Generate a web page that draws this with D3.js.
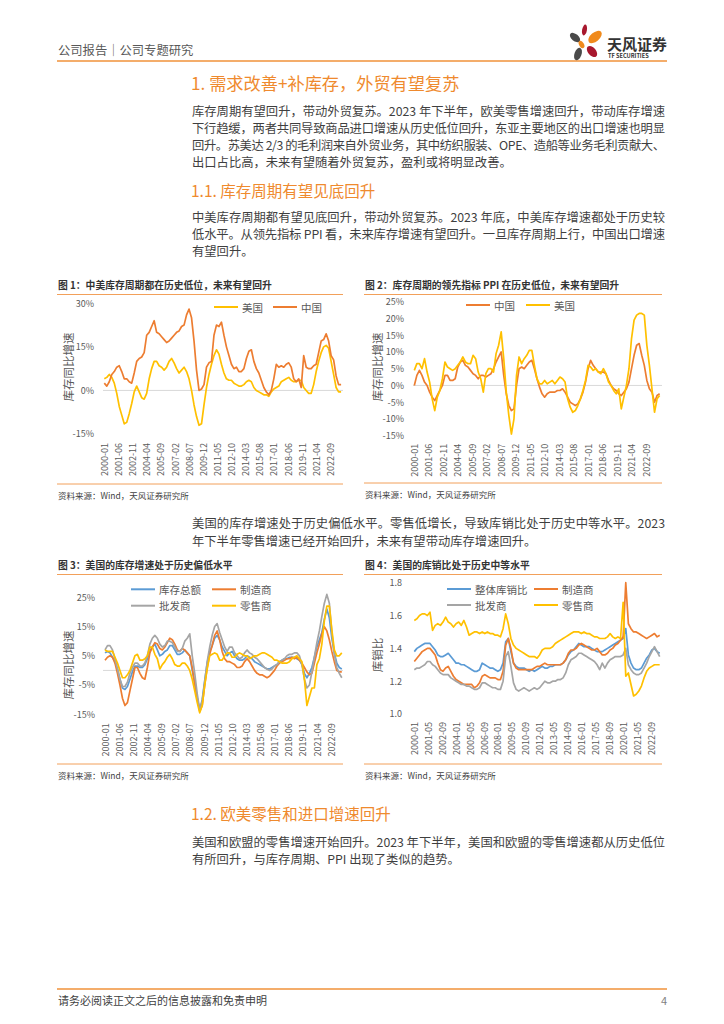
<!DOCTYPE html>
<html>
<head>
<meta charset="utf-8">
<script src="https://cdn.jsdelivr.net/npm/d3@7"></script>
<style>
  body { margin: 0; background: #fff; }
  text { font-family: "Noto Sans CJK SC", "Noto Sans", sans-serif; }
</style>
</head>
<body>
<svg id="page" width="724" height="1024"></svg>
<script>
// ---- data (readings every third month, starting 2000-01) ----
const STEP = 3;

const xTicksA = ["2000-01","2001-06","2002-11","2004-04","2005-09","2007-02","2008-07","2009-12","2011-05","2012-10","2014-03","2015-08","2017-01","2018-06","2019-11","2021-04","2022-09"];
const xTicksB = ["2000-01","2001-05","2002-09","2004-01","2005-05","2006-09","2008-01","2009-05","2010-09","2012-01","2013-05","2014-09","2016-01","2017-05","2018-09","2020-01","2021-05","2022-09"];

// 图1 库存同比 (%)
const invUS = [4,4.5,5.5,4.5,2.5,-1,-5.5,-8.5,-11.5,-11,
  -8,-4.5,-0.5,1.5,-0.5,-2.5,-3,-1,4,7.5,
  10,10,8.5,8,7,8,10,11,9.5,7.5,
  6,7,8,6.5,4,0,-5,-9,-12,-11.5,
  -5,1,5.5,9,12,14,12.5,9,6,4,
  3.5,3.5,2.5,2,1.5,1.5,2,3,3.5,3,
  1,0,-0.5,-1,-1.5,-1.5,-2,-0.5,0.5,1,
  1.5,3,3.5,4,4.5,3.5,3,3,3.5,3.5,
  1,0,-1,-1,2,6.5,10,13,15,15.5,
  14.5,10,5.5,1,-0.5,-0.5];
const invCN = [2.5,1.5,3,5.5,6.5,8,8.5,6.5,4,4,
  3,2.5,6,10,11,11.5,13,19,20,22,
  24,20,19.5,18.5,17.5,16.5,17,18,19,20,
  20.5,22,22.5,26,28,25,17,7,0,0.5,
  2,8,9.5,10,19,22.5,22,23.5,19,15,
  12,9,7.5,8,6.5,6.5,7.5,11,13.5,14,
  10,7.5,6,3.5,1,-0.5,-1.5,0,4,9,
  8,8.5,8,9,9.5,8,4,3,4,1,
  12,8,7.5,7.5,8.5,9,13,17,17.5,19.5,
  17,12,10.5,5,2,2];

// 图2 PPI 同比 (%)
const ppiCN = [0,3,4.5,3,1,0,-2,-3.5,-4.5,-3,
  -1.5,0,3,3,1.5,1.5,2,5.5,7,7.5,
  6,5.5,4.5,3.5,3,2,3,3,2.5,3,
  3.5,5,7,8.5,10,3,-2.5,-6,-7.5,-7,
  0,5,5.5,5,6,7,7.5,5,2,-0.5,
  -2.5,-3.5,-2.5,-2,-2,-2,-1.5,-1.5,-1,-2,
  -3.5,-5,-5.5,-6,-5.5,-4,-2,1,5,7.5,
  6,5,4,4,4,3.5,1.5,0,-1,-1.5,
  -2.5,-3,-2,-1,1,5,9,12,12.5,9,
  6,1.5,-1,-2,-5,-3,-2.5];
const ppiUS = [4.5,6.5,6.5,5,8,4,1,-4,-7.5,-3.5,
  -1.5,2,7,5.5,5,4.5,5,6,7,8.5,
  7,6.5,6.5,9,8,4,2,-2,3.5,5,
  5,4,9.5,12,16,8,-2,-9,-14.5,-10,
  3,8.5,6.5,8,9,10.5,10.5,6,2,0.5,
  0.5,1.5,0.5,1,1.5,0.5,1.5,2.5,2,1,
  -4,-6.5,-8,-7.5,-6,-4,-1.5,1.5,6,5.5,
  4.5,5,4,3.5,5,3.5,1,0,-1.5,-2.5,
  -1,-7,-3.5,0,5,14,19.5,21,21.5,21.5,
  21,12,6,-1,-8,-4,-3];

// 图3 美国库存同比 (%)
const usTotal = [6,6.5,6,4.5,3,0.5,-3,-6,-6.5,-5.5,
  -3,-0.5,1.5,1.5,1,1,2,4,6.5,8,
  9,7,5,5.5,6.5,7,8.5,8.5,7,5.5,
  5.5,6,7,6,5,0,-4.5,-9.5,-13.5,-10,
  -3.5,2.5,6.5,8.5,11,12,10.5,8,6.5,5,
  6,6.5,5,4,3.5,3.5,4,5,4.5,4,
  3,2.5,2,1.5,1,0.5,0.5,1,1.5,2,
  3,3.5,4,4,4.5,4.5,4.5,4,3.5,2,
  -1,-2.5,-1,1,4.5,8,10.5,13,17.5,21,
  18,11,6,2.5,1,0.5];
const usMfg = [3.5,4.5,5,4.5,2.5,-1,-5,-9.5,-12,-11,
  -7,-3,1,1,-1,-2.5,-3,1,6,8,
  9.5,9,7.5,7,8,9.5,11,10.5,9,7,
  6.5,7.5,7,6,5,1,-4.5,-9.5,-14,-12,
  -5,1,5.5,8.5,12,13.5,10.5,6.5,4,3,
  3,2.5,2,1,1,1.5,3,4,3,1.5,
  0,-1,-1.5,-1.5,-2,-2.5,-2,-1,0,1.5,
  2.5,3,3.5,4,4,4.5,4,4.5,3.5,2.5,
  1,-0.5,-1.5,-1,2.5,6,9,12.5,15,13.5,
  10.5,6.5,3,0,-0.5,-0.5];
const usWhl = [7,8.5,8.5,7,4,0.5,-3,-5.5,-5.5,-4,
  -1,1,2.5,2.5,1.5,1.5,2.5,5,9,11,
  12,11,9,8,8.5,10,10,9.5,8,6.5,
  6.5,7.5,10,11,12.5,5,-1,-8,-13.5,-10.5,
  -4,3,8,12,15,16,13,10.5,8,6.5,
  8,8,6,5,4,4.5,6,7,6,5.5,
  4.5,4,3,2,1,0.5,0,0.5,1.5,2,
  3,3.5,4,5,5.5,5.5,6,6,5,2,
  -3,-6,-5,-0.5,4.5,9.5,13.5,18.5,23,26,
  23,13,5.5,1,-1,-2.5];
const usRet = [7,6.5,6.5,6.5,4.5,2.5,0,-2.5,-2.5,-1.5,
  0,2.5,5,5.5,3.5,3.5,4,5,8,8,
  5.5,4,0.5,2,3,4.5,5.5,4,2,1.5,
  1.5,2.5,2.5,1.5,0,-3,-7,-11,-14.5,-12,
  -5,0.5,5,5.5,6,5.5,3.5,3.5,5,6,
  6,4.5,4.5,5.5,6,5.5,5,5,4,4.5,
  5,5,5.5,6,6,5.5,5,4.5,3.5,3.5,
  3,2.5,2.5,2.5,3,4,4.5,5,4,3,
  -3,-12,-9,-6,-6,2,4,9,17,22,
  22,14,7,5,5,6];

// 图4 美国库销比
const isTotal = [1.38,1.40,1.41,1.42,1.43,1.43,1.43,1.41,1.39,1.36,
  1.35,1.35,1.36,1.37,1.35,1.33,1.31,1.31,1.30,1.30,
  1.29,1.28,1.27,1.26,1.26,1.27,1.31,1.30,1.29,1.28,
  1.28,1.27,1.26,1.27,1.31,1.44,1.46,1.38,1.31,1.29,
  1.28,1.28,1.28,1.27,1.26,1.27,1.26,1.27,1.28,1.29,
  1.28,1.28,1.29,1.29,1.30,1.30,1.30,1.31,1.33,1.36,
  1.38,1.39,1.41,1.43,1.42,1.41,1.41,1.41,1.40,1.39,
  1.38,1.38,1.38,1.39,1.40,1.41,1.42,1.43,1.44,1.45,
  1.46,1.52,1.36,1.31,1.28,1.27,1.27,1.28,1.31,1.34,
  1.36,1.39,1.40,1.38,1.37];
const isMfg = [1.32,1.34,1.36,1.38,1.39,1.40,1.40,1.38,1.36,1.31,
  1.27,1.26,1.28,1.29,1.26,1.23,1.21,1.20,1.19,1.18,
  1.18,1.18,1.18,1.16,1.17,1.19,1.23,1.24,1.23,1.22,
  1.22,1.22,1.21,1.21,1.26,1.42,1.46,1.40,1.31,1.28,
  1.27,1.27,1.27,1.27,1.27,1.27,1.28,1.29,1.29,1.30,
  1.31,1.30,1.30,1.30,1.30,1.30,1.30,1.31,1.33,1.37,
  1.39,1.39,1.40,1.42,1.43,1.42,1.41,1.40,1.39,1.39,
  1.40,1.38,1.36,1.36,1.37,1.39,1.40,1.42,1.43,1.45,
  1.47,1.80,1.55,1.52,1.50,1.50,1.49,1.48,1.47,1.46,
  1.47,1.48,1.49,1.47,1.48];
const isWhl = [1.27,1.28,1.28,1.29,1.30,1.32,1.32,1.30,1.29,1.27,
  1.25,1.24,1.24,1.24,1.22,1.21,1.20,1.19,1.18,1.18,
  1.17,1.17,1.16,1.15,1.15,1.16,1.19,1.19,1.18,1.17,
  1.16,1.16,1.15,1.15,1.20,1.35,1.38,1.29,1.19,1.15,
  1.14,1.15,1.16,1.15,1.14,1.15,1.16,1.15,1.16,1.18,
  1.20,1.19,1.19,1.20,1.20,1.21,1.21,1.22,1.25,1.30,
  1.33,1.34,1.35,1.37,1.37,1.36,1.35,1.34,1.33,1.32,
  1.30,1.27,1.31,1.28,1.31,1.33,1.34,1.35,1.35,1.35,
  1.36,1.40,1.30,1.27,1.25,1.24,1.24,1.25,1.28,1.31,
  1.35,1.38,1.41,1.38,1.35];
const isRet = [1.57,1.58,1.60,1.61,1.61,1.60,1.62,1.51,1.54,1.55,
  1.54,1.56,1.59,1.56,1.55,1.53,1.55,1.56,1.54,1.57,
  1.53,1.48,1.49,1.50,1.50,1.49,1.50,1.49,1.50,1.49,
  1.49,1.48,1.48,1.47,1.52,1.61,1.55,1.46,1.42,1.40,
  1.39,1.38,1.37,1.36,1.35,1.35,1.35,1.34,1.36,1.39,
  1.40,1.40,1.40,1.41,1.43,1.44,1.45,1.46,1.47,1.48,
  1.49,1.50,1.50,1.50,1.49,1.50,1.49,1.49,1.48,1.47,
  1.47,1.46,1.46,1.46,1.47,1.49,1.47,1.46,1.47,1.46,
  1.68,1.23,1.25,1.18,1.11,1.12,1.14,1.17,1.22,1.26,
  1.28,1.29,1.30,1.30,1.30];

// ---- page ----
const ORANGE = "#EF8A2E", LINE_OR = "#F2A05A", TXT = "#3f3f3f", AX = "#595959";
const C_BLUE = "#5B9BD5", C_ORANGE = "#ED7D31", C_GRAY = "#A5A5A5", C_YELLOW = "#FFC000";

const svg = d3.select("#page");

function label(x, y, str, size, color, opts = {}) {
  const t = svg.append("text")
    .attr("x", x).attr("y", y)
    .attr("dominant-baseline", "central")
    .attr("font-size", size)
    .attr("fill", color)
    .text(str);
  if (opts.bold) t.attr("font-weight", "bold");
  if (opts.anchor) t.attr("text-anchor", opts.anchor);
  if (opts.width) t.attr("textLength", opts.width).attr("lengthAdjust", "spacing");
  return t;
}

function hline(x1, x2, y, color, w) {
  svg.append("line").attr("x1", x1).attr("x2", x2).attr("y1", y).attr("y2", y)
    .attr("stroke", color).attr("stroke-width", w);
}

// header
label(58, 50, "公司报告｜公司专题研究", 12.3, "#595959");
hline(57, 667, 61, "#F0923A", 1.6);
const petals = [
  [584.5, 30, 2.4, 5.5, 10, "#A8182E"],
  [595, 37, 4.5, 8, 50, "#F08A1C"],
  [575, 37.5, 3.5, 6, -50, "#4A4A4A"],
  [581.5, 44.5, 2.4, 4, -30, "#F08A1C"],
  [592, 51.5, 4, 6.5, -40, "#A8182E"],
  [578, 54, 3.5, 6.5, 20, "#4A4A4A"]
];
svg.append("g").selectAll("ellipse").data(petals).join("ellipse")
  .attr("cx", d => d[0]).attr("cy", d => d[1])
  .attr("rx", d => d[2]).attr("ry", d => d[3])
  .attr("transform", d => `rotate(${d[4]},${d[0]},${d[1]})`)
  .attr("fill", d => d[5]);
label(607, 43.5, "天风证券", 15, "#333", {bold: true});
label(608, 56, "TF SECURITIES", 5.6, "#333", {bold: true});

// body text
const BX = 192, BW = 473, BF = 12.3;
function para(lines, y0, lh) {
  lines.forEach((s, i) => {
    label(BX, y0 + i * lh, s, BF, TXT, i < lines.length - 1 ? {width: BW} : {});
  });
}
label(191, 82, "1. 需求改善+补库存，外贸有望复苏", 17.2, ORANGE);
para(["库存周期有望回升，带动外贸复苏。2023 年下半年，欧美零售增速回升，带动库存增速",
      "下行趋缓，两者共同导致商品进口增速从历史低位回升，东亚主要地区的出口增速也明显",
      "回升。苏美达 2/3 的毛利润来自外贸业务，其中纺织服装、OPE、造船等业务毛利贡献大、",
      "出口占比高，未来有望随着外贸复苏，盈利或将明显改善。"], 111, 17);
label(191, 190, "1.1. 库存周期有望见底回升", 15.5, ORANGE);
para(["中美库存周期都有望见底回升，带动外贸复苏。2023 年底，中美库存增速都处于历史较",
      "低水平。从领先指标 PPI 看，未来库存增速有望回升。一旦库存周期上行，中国出口增速",
      "有望回升。"], 217, 17);
para(["美国的库存增速处于历史偏低水平。零售低增长，导致库销比处于历史中等水平。2023",
      "年下半年零售增速已经开始回升，未来有望带动库存增速回升。"], 523, 18);
label(191, 813, "1.2. 欧美零售和进口增速回升", 15.5, ORANGE);
para(["美国和欧盟的零售增速开始回升。2023 年下半年，美国和欧盟的零售增速都从历史低位",
      "有所回升，与库存周期、PPI 出现了类似的趋势。"], 842, 16.5);

// footer
hline(57, 667, 989, "#F0923A", 1.6);
label(58, 1000, "请务必阅读正文之后的信息披露和免责申明", 11, TXT);
label(667, 1000, "4", 11, "#7f7f7f", {anchor: "end"});

// ---- charts ----
const monthIndex = s => { const [y, m] = s.split("-").map(Number); return (y - 2000) * 12 + m - 1; };

function drawChart(cfg) {
  // caption and frame lines
  label(cfg.left + 1, cfg.capY, cfg.caption, 9.8, "#333", {bold: true});
  hline(cfg.left, cfg.right, cfg.capY + 9.5, LINE_OR, 1);
  hline(cfg.left, cfg.right, cfg.srcY - 11, LINE_OR, 1);
  label(cfg.left + 1, cfg.srcY, "资料来源：Wind，天风证券研究所", 8.5, TXT);

  const x = d3.scaleLinear().domain([0, 272]).range(cfg.xr);
  const y = d3.scaleLinear().domain(cfg.yd).range(cfg.yr);
  const g = svg.append("g");

  if (cfg.zero) {
    g.append("line").attr("x1", cfg.plotX[0]).attr("x2", cfg.plotX[1])
      .attr("y1", y(0)).attr("y2", y(0)).attr("stroke", "#D9D9D9").attr("stroke-width", 1);
  }

  // y axis
  const ya = g.append("g").attr("transform", `translate(${cfg.yLabelX + 3},0)`)
    .call(d3.axisLeft(y).tickValues(cfg.yTicks).tickFormat(cfg.yFmt).tickSize(0).tickPadding(3));
  ya.select(".domain").remove();
  ya.selectAll("text").attr("font-size", 9).attr("fill", AX)
    .attr("font-family", "'Noto Sans CJK SC', sans-serif");

  // x axis
  const xa = g.append("g").attr("transform", `translate(0,${cfg.yr[0]})`)
    .call(d3.axisBottom(x).tickValues(cfg.xTicks.map(monthIndex))
      .tickFormat(i => cfg.xTicks.find(s => monthIndex(s) === i)).tickSize(0));
  xa.select(".domain").remove();
  xa.selectAll("text")
    .attr("transform", "rotate(-90)")
    .attr("x", -cfg.xPad).attr("y", 0).attr("dy", "0.35em")
    .style("text-anchor", "end")
    .attr("font-size", 9).attr("fill", AX)
    .attr("font-family", "'Noto Sans CJK SC', sans-serif");

  // y title
  svg.append("text")
    .attr("transform", `translate(${cfg.titleX},${cfg.titleY}) rotate(-90)`)
    .attr("text-anchor", "middle").attr("dominant-baseline", "central")
    .attr("font-size", 11.5).attr("fill", AX).text(cfg.yTitle);

  // series
  const line = d3.line().x((d, i) => x(i * STEP)).y(d => y(d));
  cfg.series.forEach(s => {
    g.append("path").datum(s.values)
      .attr("d", line).attr("fill", "none")
      .attr("stroke", s.color).attr("stroke-width", 1.7)
      .attr("stroke-linejoin", "round");
  });

  // legend
  cfg.legend.forEach(l => {
    const s = cfg.series.find(d => d.name === l.name);
    g.append("line").attr("x1", l.x).attr("x2", l.x + 24).attr("y1", l.y).attr("y2", l.y)
      .attr("stroke", s.color).attr("stroke-width", 2);
    g.append("text").attr("x", l.x + 28).attr("y", l.y).attr("dominant-baseline", "central")
      .attr("font-size", 10.5).attr("fill", AX).text(s.name);
  });
}

const pct = d => d + "%";

drawChart({
  caption: "图 1：中美库存周期都在历史低位，未来有望回升",
  left: 57, right: 343, capY: 285, srcY: 495,
  xr: [104.3, 330.3], yd: [-15, 30], yr: [434, 303.3], plotX: [103, 343],
  yTicks: [-15, 0, 15, 30], yFmt: pct, yLabelX: 94, zero: true,
  xTicks: xTicksA, xPad: 9, yTitle: "库存同比增速", titleX: 68, titleY: 367,
  series: [{name: "美国", values: invUS, color: C_YELLOW}, {name: "中国", values: invCN, color: C_ORANGE}],
  legend: [{name: "美国", x: 214, y: 307}, {name: "中国", x: 273, y: 307}]
});

drawChart({
  caption: "图 2：库存周期的领先指标 PPI 在历史低位，未来有望回升",
  left: 364, right: 662, capY: 285, srcY: 494,
  xr: [414.3, 646], yd: [-15, 25], yr: [435.7, 301.7], plotX: [413, 662],
  yTicks: d3.range(-15, 26, 5), yFmt: pct, yLabelX: 404, zero: true,
  xTicks: xTicksA, xPad: 8, yTitle: "库存同比增速", titleX: 377, titleY: 367,
  series: [{name: "中国", values: ppiCN, color: C_ORANGE}, {name: "美国", values: ppiUS, color: C_YELLOW}],
  legend: [{name: "中国", x: 466, y: 305}, {name: "美国", x: 526, y: 305}]
});

drawChart({
  caption: "图 3：美国的库存增速处于历史偏低水平",
  left: 57, right: 343, capY: 565, srcY: 775,
  xr: [105, 331], yd: [-15, 25], yr: [714.3, 597.3], plotX: [103, 343],
  yTicks: [-15, -5, 5, 15, 25], yFmt: pct, yLabelX: 95, zero: true,
  xTicks: xTicksA, xPad: 9, yTitle: "库存同比增速", titleX: 68, titleY: 665,
  series: [
    {name: "库存总额", values: usTotal, color: C_BLUE},
    {name: "制造商", values: usMfg, color: C_ORANGE},
    {name: "批发商", values: usWhl, color: C_GRAY},
    {name: "零售商", values: usRet, color: C_YELLOW}],
  legend: [{name: "库存总额", x: 131, y: 589.3}, {name: "制造商", x: 212, y: 589.3},
           {name: "批发商", x: 131, y: 605.7}, {name: "零售商", x: 212, y: 605.7}]
});

drawChart({
  caption: "图 4：美国的库销比处于历史中等水平",
  left: 364, right: 662, capY: 565, srcY: 775,
  xr: [414.3, 651], yd: [1.0, 1.8], yr: [714, 582.7], plotX: [413, 662],
  yTicks: [1.0, 1.2, 1.4, 1.6, 1.8], yFmt: d3.format(".1f"), yLabelX: 402, zero: false,
  xTicks: xTicksB, xPad: 8, yTitle: "库销比", titleX: 377, titleY: 655,
  series: [
    {name: "整体库销比", values: isTotal, color: C_BLUE},
    {name: "制造商", values: isMfg, color: C_ORANGE},
    {name: "批发商", values: isWhl, color: C_GRAY},
    {name: "零售商", values: isRet, color: C_YELLOW}],
  legend: [{name: "整体库销比", x: 447, y: 589}, {name: "制造商", x: 534, y: 589},
           {name: "批发商", x: 447, y: 605}, {name: "零售商", x: 534, y: 605}]
});
</script>
</body>
</html>
